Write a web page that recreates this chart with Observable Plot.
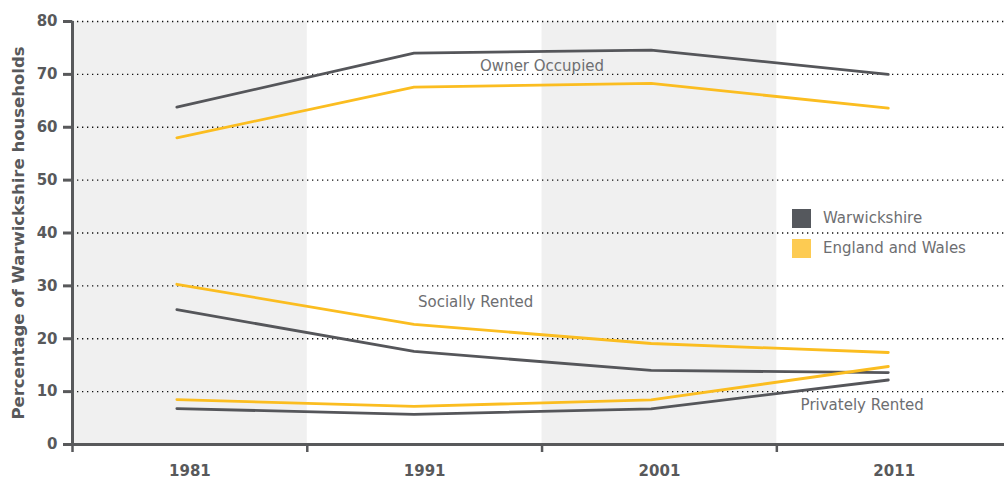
<!DOCTYPE html>
<html>
<head>
<meta charset="utf-8">
<script src="https://cdn.jsdelivr.net/npm/d3@7"></script>
<script src="https://cdn.jsdelivr.net/npm/@observablehq/plot@0.6"></script>
<style>
  html, body { margin: 0; padding: 0; background: #fff; }
  #wrap { position: relative; width: 1004px; height: 482px; font-family: "DejaVu Sans", sans-serif; }
  #legend { position: absolute; left: 792px; top: 203px; font-size: 15px; color: #6d6e71; }
  .item { display: flex; align-items: center; height: 30px; }
  .sw { width: 19px; height: 19px; margin-right: 12px; }
</style>
</head>
<body>
<div id="wrap"><div id="legend"></div></div>
<script>
// ---- data ----
const years = [1981, 1991, 2001, 2011];
const seriesNames = ["Warwickshire", "England and Wales"];
const seriesColors = ["#55565a", "#fbbd20"];
const legendColors = ["#55585d", "#fdcb52"];
const ownerWarks = [63.8, 74.0, 74.6, 70.0];
const ownerEW = [58.0, 67.6, 68.3, 63.6];
const socialWarks = [25.5, 17.6, 14.0, 13.6];
const socialEW = [30.3, 22.7, 19.1, 17.4];
const privateWarks = [6.8, 5.7, 6.75, 12.2];
const privateEW = [8.5, 7.2, 8.45, 14.75];
const yTicks = [0, 10, 20, 30, 40, 50, 60, 70, 80];
const bandEdges = [1976.6, 1986.5, 1996.4, 2006.3, 2016.2];
const xLabels = ["1981", "1991", "2001", "2011"];
const annotations = [
  {text: "Owner Occupied", year: 1996.4, value: 71.5},
  {text: "Socially Rented", year: 1993.6, value: 26.9},
  {text: "Privately Rented", year: 2009.9, value: 7.4}
];

// ---- build tables ----
const groups = [
  ["Owner", ownerWarks, ownerEW],
  ["Social", socialWarks, socialEW],
  ["Private", privateWarks, privateEW]
];
const rows = [];
for (const [tenure, w, e] of groups) {
  years.forEach((yr, i) => {
    rows.push({tenure, series: seriesNames[0], year: yr, value: w[i]});
    rows.push({tenure, series: seriesNames[1], year: yr, value: e[i]});
  });
}
const bands = bandEdges.slice(0, -1).map((x1, i) => ({x1, x2: bandEdges[i + 1], i}));
const mids = bands.map(b => (b.x1 + b.x2) / 2);
const gray = "#58595b";

const chart = Plot.plot({
  width: 1004,
  height: 482,
  marginLeft: 72,
  marginRight: 0,
  marginTop: 21,
  marginBottom: 38,
  style: {fontFamily: "DejaVu Sans, sans-serif", background: "#fff"},
  x: {domain: [1976.6, 2015.9]},
  y: {domain: [0, 80]},
  color: {domain: seriesNames, range: seriesColors},
  marks: [
    Plot.rect(bands.filter(b => b.i % 2 === 0), {x1: "x1", x2: "x2", y1: 0, y2: 80, fill: "#f0f0f0"}),
    Plot.ruleY(yTicks.filter(d => d > 0), {stroke: "#111", strokeWidth: 1.3, strokeDasharray: "1.3,3.7"}),
    ...groups.map(([t]) =>
      Plot.line(rows.filter(r => r.tenure === t), {x: "year", y: "value", z: "series", stroke: "series", strokeWidth: 2.8})
    ),
    Plot.text(annotations, {x: "year", y: "value", text: "text", fill: "#6d6e71", fontSize: 15}),
    Plot.ruleY([0], {stroke: gray, strokeWidth: 3}),
    Plot.ruleX([bandEdges[0]], {y1: 0, y2: 80, stroke: gray, strokeWidth: 3}),
    Plot.axisY({ticks: yTicks, tickSize: 9, tickPadding: 6, stroke: gray, strokeWidth: 3, fill: gray, fontSize: 15, fontWeight: "bold", label: null}),
    Plot.axisX({ticks: bandEdges, tickSize: 8, stroke: gray, strokeWidth: 2.5, tickFormat: () => "", label: null}),
    Plot.axisX({ticks: mids, tickSize: 0, tickPadding: 21, tickFormat: (d) => xLabels[mids.indexOf(d)], fill: gray, fontSize: 15, fontWeight: "bold", label: null}),
    Plot.text(["Percentage of Warwickshire households"], {frameAnchor: "left", textAnchor: "middle", rotate: -90, dx: -54, fill: gray, fontSize: 16.5, fontWeight: "bold"})
  ]
});
const wrap = document.getElementById("wrap");
wrap.insertBefore(chart, wrap.firstChild);

const legend = document.getElementById("legend");
seriesNames.forEach((name, i) => {
  const item = document.createElement("div");
  item.className = "item";
  const sw = document.createElement("div");
  sw.className = "sw";
  sw.style.background = legendColors[i];
  const label = document.createElement("span");
  label.textContent = name;
  item.appendChild(sw);
  item.appendChild(label);
  legend.appendChild(item);
});
</script>
</body>
</html>
